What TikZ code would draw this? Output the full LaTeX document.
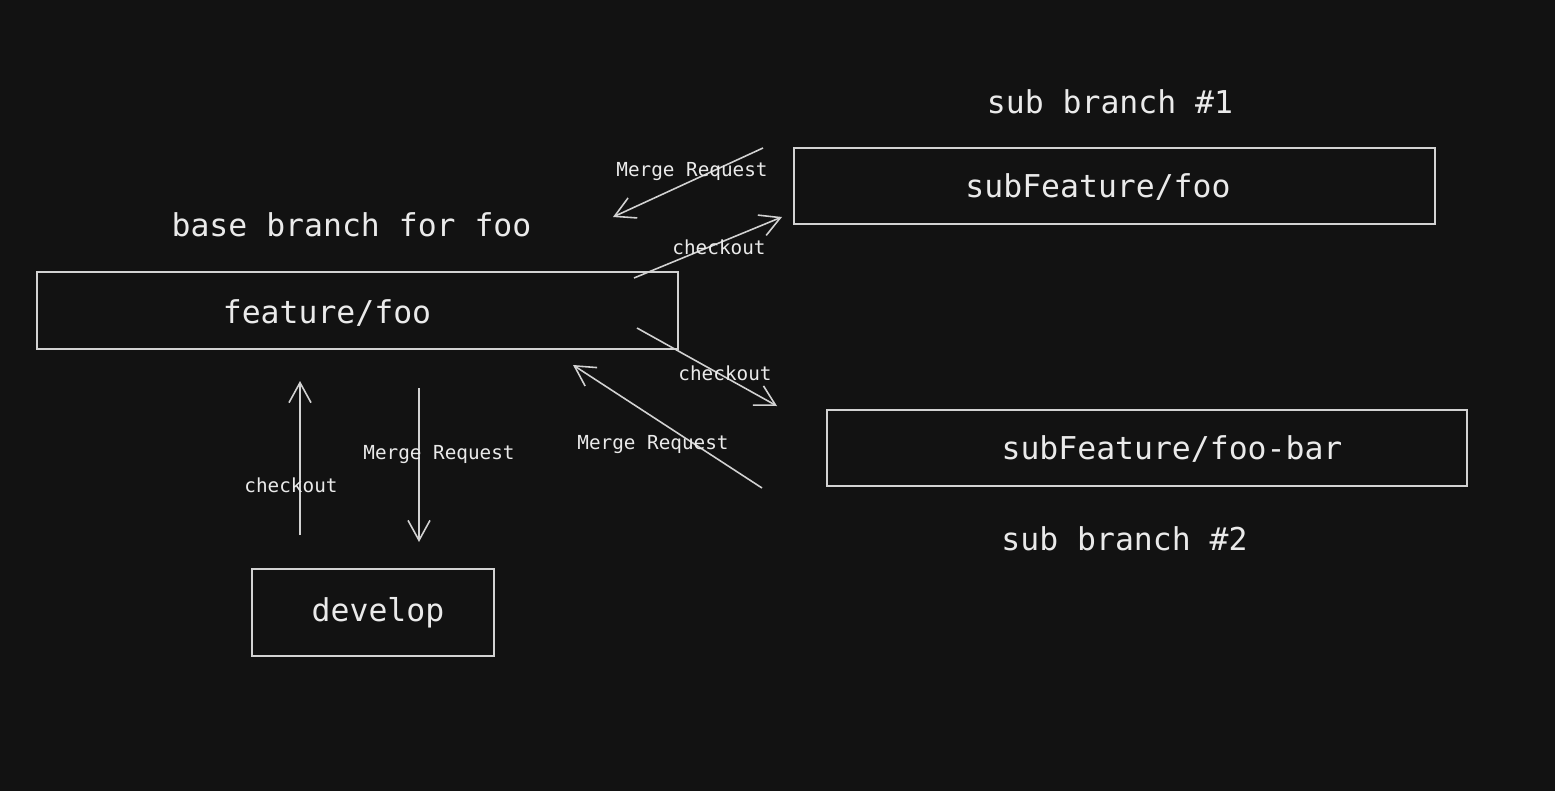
\documentclass[tikz,border=0pt]{standalone}
\usepackage{fontspec}
\setmonofont{DejaVu Sans Mono}
\usetikzlibrary{arrows.meta}
\definecolor{bgdark}{HTML}{121212}
\definecolor{strokegray}{HTML}{D2D2D2}
\definecolor{textwhite}{HTML}{EAEAEA}
\tikzset{>={Straight Barb[length=4mm,width=4.4mm]}}
\tikzset{
  branch/.style={draw=strokegray, line width=0.9pt, inner sep=0pt},
  bigtext/.style={text=textwhite, font=\ttfamily\fontsize{17.9}{20}\selectfont, inner sep=0pt},
  smalltext/.style={text=textwhite, font=\ttfamily\fontsize{11}{13}\selectfont, inner sep=0pt},
  flow/.style={draw=strokegray, line width=0.9pt, ->}
}

\begin{document}
\begin{tikzpicture}[x=0.02cm,y=-0.02cm]
  \fill[bgdark] (0,0) rectangle (1555,791);
  % branch boxes
  \node[branch, minimum width=12.82cm, minimum height=1.54cm] (feat) at (357.5,310.5) {};
  \node[branch, minimum width=12.82cm, minimum height=1.52cm] (subone) at (1114.5,186) {};
  \node[branch, minimum width=12.80cm, minimum height=1.52cm] (subtwo) at (1147,448) {};
  \node[branch, minimum width=4.84cm, minimum height=1.74cm] (dev) at (373,612.5) {};
  \node[bigtext] (featlbl) at (327,313) {feature/foo};
  \node[bigtext] (subonelbl) at (1098,187) {subFeature/foo};
  \node[bigtext] (subtwolbl) at (1172,449) {subFeature/foo-bar};
  \node[bigtext] (devlbl) at (378,613) {develop};
  % titles
  \node[bigtext] (basettl) at (351.5,225) {base branch for foo};
  \node[bigtext] (subonettl) at (1110,102) {sub branch \#1};
  \node[bigtext] (subtwottl) at (1124.5,539) {sub branch \#2};
  % arrow ends
  \coordinate (mrAs) at (763,148);
  \coordinate (mrAe) at (613,217);
  \coordinate (coAs) at (634,278);
  \coordinate (coAe) at (782,217);
  \coordinate (coBs) at (637,328);
  \coordinate (coBe) at (777,406);
  \coordinate (mrBs) at (762,488);
  \coordinate (mrBe) at (573,365);
  \coordinate (coCs) at (300,535);
  \coordinate (coCe) at (300,381);
  \coordinate (mrCs) at (419,388);
  \coordinate (mrCe) at (419,542);
  \draw[flow] (mrAs) -- (mrAe);
  \draw[flow] (coAs) -- (coAe);
  \draw[flow] (coBs) -- (coBe);
  \draw[flow] (mrBs) -- (mrBe);
  \draw[flow] (coCs) -- (coCe);
  \draw[flow] (mrCs) -- (mrCe);
  % arrow labels
  \node[smalltext] (mrAlbl) at (692,172) {Merge Request};
  \node[smalltext] (coAlbl) at (719,247) {checkout};
  \node[smalltext] (coBlbl) at (725,373) {checkout};
  \node[smalltext] (mrBlbl) at (653,445) {Merge Request};
  \node[smalltext] (coClbl) at (291,485) {checkout};
  \node[smalltext] (mrClbl) at (439,455) {Merge Request};
\end{tikzpicture}
\end{document}
